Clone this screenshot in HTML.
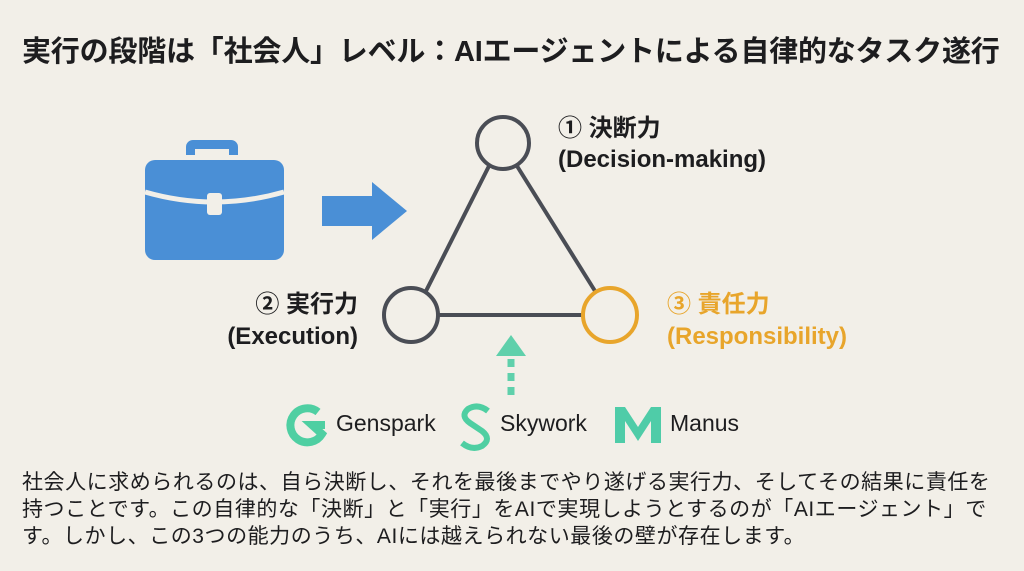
<!DOCTYPE html>
<html><head><meta charset="utf-8"><style>
body{margin:0;width:1024px;height:571px;background:#f2efe8;overflow:hidden;font-family:"Liberation Sans","Noto Sans CJK JP",sans-serif;position:relative;color:#1d1d1f}
.t{position:absolute;white-space:nowrap}
h1{position:absolute;left:22px;top:28px;margin:0;font-size:29px;font-weight:bold;letter-spacing:-0.2px;white-space:nowrap}
.lb{font-size:24px;font-weight:bold;line-height:32px}
p{position:absolute;left:22px;top:469px;margin:0;font-size:21px;line-height:27px;white-space:nowrap;letter-spacing:0.55px}
</style></head><body>
<h1>実行の段階は「社会人」レベル：AIエージェントによる自律的なタスク遂行</h1>
<svg width="1024" height="571" style="position:absolute;left:0;top:0">
<g fill="#4a8fd6">
<path d="M186 155 v-8 a7 7 0 0 1 7 -7 h38 a7 7 0 0 1 7 7 v8 h-9 v-6 h-34 v6z"/>
<rect x="145" y="160" width="139" height="100" rx="10"/>
<path d="M322 196 h50 v-14 l35 29 l-35 29 v-14 h-50z"/>
</g>
<path d="M145 192 Q214 212 284 192" stroke="#f2efe8" stroke-width="5" fill="none"/>
<rect x="207" y="193" width="15" height="22" rx="3" fill="#f2efe8"/>
<g stroke="#4a4d55" stroke-width="4" fill="none">
<line x1="489" y1="166" x2="426" y2="291"/>
<line x1="517" y1="166" x2="595" y2="291"/>
<line x1="438" y1="315" x2="583" y2="315"/>
<circle cx="503" cy="143" r="26"/>
<circle cx="411" cy="315" r="27"/>
</g>
<circle cx="610" cy="315" r="27" stroke="#e8a52b" stroke-width="4" fill="none"/>
<line x1="511" y1="395" x2="511" y2="358" stroke="#5fd0ab" stroke-width="7" stroke-dasharray="8 6"/>
<path d="M496 356 L511 335 L526 356Z" fill="#5fd0ab"/>
<path d="M318 412 a17 17 0 1 0 4 22 l-10 -9 h13" stroke="#4fcfa2" stroke-width="8" fill="none"/>
<path d="M488 411 q-10 -8 -20 -2 q-8 7 2 14 l12 8 q10 8 0 15 q-10 5 -20 -3" stroke="#4fcfa2" stroke-width="6" fill="none"/>
<path d="M615 443 v-36 h10 l13 20 l13 -20 h10 v36 h-10 v-22 l-13 20 l-13 -20 v22z" fill="#4fcca8"/>
</svg>
<div class="t lb" style="left:558px;top:113px">① 決断力</div>
<div class="t lb" style="left:558px;top:144px">(Decision-making)</div>
<div class="t lb" style="right:666px;top:289px;text-align:right">② 実行力</div>
<div class="t lb" style="right:666px;top:321px;text-align:right">(Execution)</div>
<div class="t lb" style="left:667px;top:289px;color:#e8a52b">③ 責任力</div>
<div class="t lb" style="left:667px;top:321px;color:#e8a52b">(Responsibility)</div>
<div class="t" style="left:336px;top:410px;font-size:23px">Genspark</div>
<div class="t" style="left:500px;top:410px;font-size:23px">Skywork</div>
<div class="t" style="left:670px;top:410px;font-size:23px">Manus</div>
<p>社会人に求められるのは、自ら決断し、それを最後までやり遂げる実行力、そしてその結果に責任を<br>持つことです。この自律的な「決断」と「実行」をAIで実現しようとするのが「AIエージェント」で<br>す。しかし、この3つの能力のうち、AIには越えられない最後の壁が存在します。</p>
</body></html>
